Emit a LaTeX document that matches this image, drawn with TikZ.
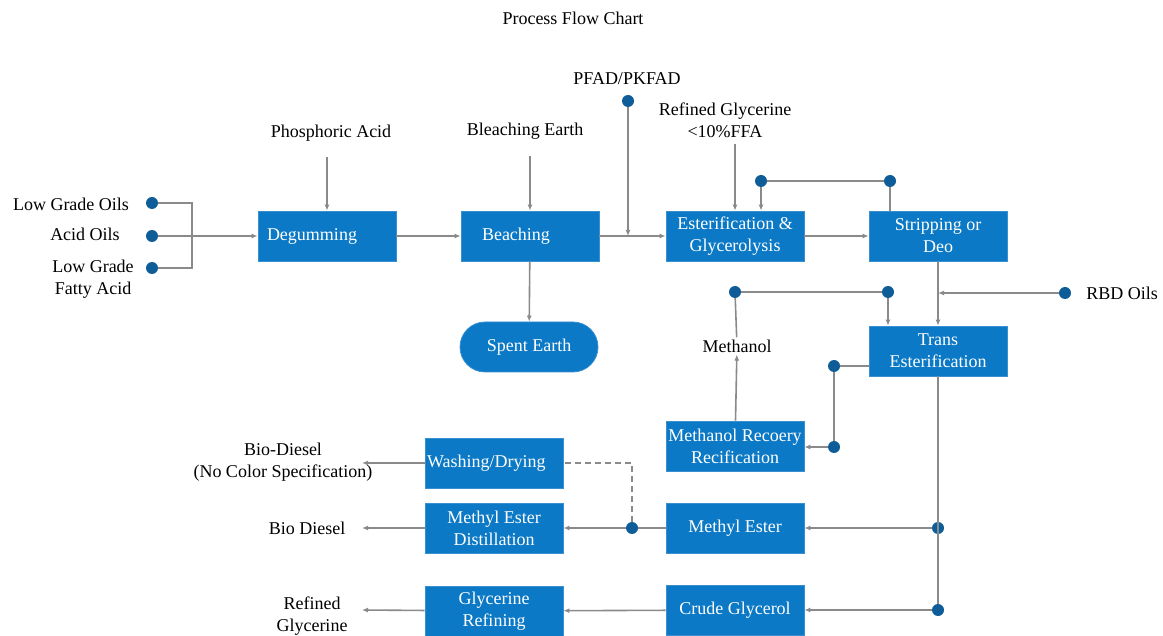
\documentclass[tikz,border=0pt]{standalone}
\usepackage{fontspec}
\setmainfont{Liberation Serif}
\usetikzlibrary{arrows.meta}

\definecolor{procBlue}{HTML}{0B79C6}
\definecolor{procEdge}{HTML}{3A8FD0}
\definecolor{dotBlue}{HTML}{0F5D98}
\definecolor{flowGray}{HTML}{8A8A8A}

\tikzset{
  procBox/.style={draw=procEdge,line width=0.8pt,fill=procBlue,text=white,
    minimum width=138pt,minimum height=50pt,inner sep=0pt,align=center},
  dotNode/.style={circle,fill=dotBlue,minimum size=12pt,inner sep=0pt},
  flowLine/.style={draw=flowGray,line width=1.6pt},
  flowArrow/.style={flowLine,-{Latex[length=6pt,width=5pt]}},
  plainLabel/.style={align=center,inner sep=2pt}
}

\begin{document}
\begin{tikzpicture}[x=1pt,y=-1pt,font=\fontsize{18}{22}\selectfont]
  \useasboundingbox (0,0) rectangle (1163,636);
  \node[plainLabel] (title) at (573,18) {Process Flow Chart};

  % process boxes
  \node[procBox,text width=120pt,align=left] (degum) at (327,236) {Degumming};
  \node[procBox,text width=96pt,align=left] (beach) at (530,236) {Beaching};
  \node[procBox] (ester) at (735,236) {Esterification \&\\Glycerolysis};
  \node[procBox] (strip) at (938,236) {Stripping or\\Deo};
  \node[procBox] (trans) at (938,351) {Trans\\Esterification};
  \node[procBox,rounded corners=25pt] (spent) at (529,347) {Spent Earth};
  \node[procBox] (mrec) at (735,446) {Methanol Recoery\\Recification};
  \node[procBox,text width=134pt,align=left] (wash) at (494,463) {Washing/Drying};
  \node[procBox] (medist) at (494,528) {Methyl Ester\\Distillation};
  \node[procBox] (mester) at (735,528) {Methyl Ester};
  \node[procBox] (glyref) at (494,611) {Glycerine\\Refining};
  \node[procBox] (crude) at (735,610) {Crude Glycerol};

  % feed labels
  \node[plainLabel] (lowOil) at (71,204) {Low Grade Oils};
  \node[plainLabel] (acidOil) at (85,234) {Acid Oils};
  \node[plainLabel] (lowFat) at (93,279) {Low Grade\\Fatty Acid};
  \node[plainLabel] (phos) at (331,133) {Phosphoric Acid};
  \node[plainLabel] (bleach) at (525,131) {Bleaching Earth};
  \node[plainLabel] (pfadLbl) at (627,79) {PFAD/PKFAD};
  \node[plainLabel] (refGly) at (725,120) {Refined Glycerine\\<10\%FFA};
  \node[plainLabel] (rbdLbl) at (1122,293) {RBD Oils};
  \node[plainLabel] (methLbl) at (737,346) {Methanol};
  \node[plainLabel] (bioA) at (283,462) {Bio-Diesel\\(No Color Specification)};
  \node[plainLabel] (bioB) at (307,528) {Bio Diesel};
  \node[plainLabel] (refOut) at (312,616) {Refined\\Glycerine};

  % junction dots
  \node[dotNode] (inLow) at (152,203) {};
  \node[dotNode] (inAcid) at (152,236) {};
  \node[dotNode] (inFat) at (152,268) {};
  \node[dotNode] (pfad) at (628,101) {};
  \node[dotNode] (sDotA) at (761,181) {};
  \node[dotNode] (sDotB) at (890,181) {};
  \node[dotNode] (rbd) at (1065,293) {};
  \node[dotNode] (mDotA) at (735,292) {};
  \node[dotNode] (mDotB) at (888,292) {};
  \node[dotNode] (tDotA) at (834,366) {};
  \node[dotNode] (tDotB) at (834,447) {};
  \node[dotNode] (eDotA) at (938,528) {};
  \node[dotNode] (eDotB) at (938,610) {};
  \node[dotNode] (wDot) at (632,528) {};

  \coordinate (inJoin) at (192,236);
  \coordinate (outA) at (362,463);
  \coordinate (outB) at (362,528);
  \coordinate (outC) at (362,610);

  % feeds
  \draw[flowLine] (inLow) -| (inJoin) |- (inFat);
  \draw[flowArrow] (inAcid) -- (degum.west);
  \draw[flowArrow] ([yshift=-14pt]phos.south -| degum.north) -- (degum.north);
  \draw[flowArrow] ([yshift=-15pt]bleach.south -| beach.north) -- (beach.north);
  \draw[flowArrow] (degum) -- (beach);
  \draw[flowArrow] (beach) -- (spent);
  \draw[flowArrow] (beach) -- (ester);
  \draw[flowArrow] (pfad) -- (pfad |- beach.east);
  \draw[flowArrow] ([yshift=-4pt]refGly.south -| ester.north) -- (ester.north);
  \draw[flowArrow] (ester) -- (strip);

  % recycle loops
  \draw[flowLine] (sDotB |- strip.north) -- (sDotB) -- (sDotA);
  \draw[flowArrow] (sDotA) -- (sDotA |- ester.north);
  \draw[flowArrow] (strip) -- (trans);
  \draw[flowArrow] (rbd) -- (rbd -| trans.north);
  \draw[flowArrow] (mrec) -- (methLbl);
  \draw[flowLine] (methLbl) -- (mDotA) -- (mDotB);
  \draw[flowArrow] (mDotB) -- (mDotB |- trans.north);
  \draw[flowLine] (trans.west |- tDotA) -- (tDotA) -- (tDotB);
  \draw[flowArrow] (tDotB) -- (tDotB -| mrec.east);

  % products
  \draw[flowLine] (trans.south) -- (eDotB);
  \draw[flowArrow] (eDotA) -- (mester);
  \draw[flowArrow] (eDotB) -- (crude);
  \draw[flowLine] (mester) -- (wDot);
  \draw[flowArrow] (wDot) -- (medist);
  \draw[flowLine,dashed,dash pattern=on 6pt off 4pt] (wDot) |- (wash.east);
  \draw[flowArrow] (crude) -- (glyref);
  \draw[flowArrow] (wash.west) -- (outA);
  \draw[flowArrow] (medist) -- (outB);
  \draw[flowArrow] (glyref) -- (outC);
\end{tikzpicture}
\end{document}
